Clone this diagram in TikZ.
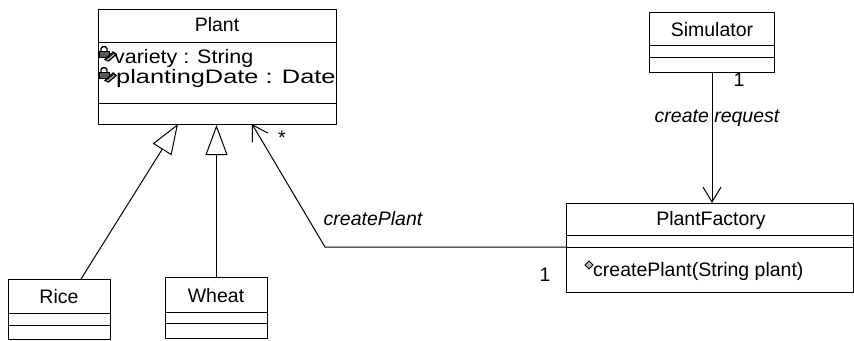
\documentclass[tikz,border=0pt]{standalone}
\usepackage{graphicx}
\usepackage{fontspec}
\setmainfont{Liberation Sans}
\usetikzlibrary{arrows.meta}
\begin{document}
\begin{tikzpicture}[x=1pt,y=-1pt,
  box/.style={draw, line width=1pt, inner sep=0pt, anchor=north west},
  sep/.style={line width=1pt},
  lbl/.style={font=\fontsize{19.5}{23}\selectfont, inner sep=0pt},
  ilbl/.style={font=\fontsize{19.5}{23}\selectfont\itshape, inner sep=0pt},
  gen/.style={line width=1pt, -{Triangle[open, length=30pt, width=22pt, line width=1pt]}},
  assoc/.style={line width=1pt, -{Straight Barb[length=15pt, width=18pt, line width=1pt]}},
  iconline/.style={line width=1.3pt}
]
\useasboundingbox (0,0) rectangle (854,340);

% Plant
\node[box, minimum width=238pt, minimum height=115pt] (plant) at (98,9) {};
\draw[sep] (98,42) -- (336,42);
\draw[sep] (98,103) -- (336,103);
\node[lbl] (plantname) at (217,25) {Plant};
\foreach \yy in {46,67}{
  \begin{scope}[shift={(98,\yy)}]
    \draw[iconline] (3,6) -- (3,2.5) -- (4.5,0.8) -- (7.5,0.8) -- (9,2.5) -- (9,6);
    \filldraw[iconline, fill=black!65] (1,5.5) rectangle (11.5,11.5);
    \filldraw[iconline, fill=gray!45] (7,13.5) -- (15,6) -- (18,8.5) -- (10.5,15) -- cycle;
    \draw[line width=0.8pt] (9.5,12.5) -- (15.5,7.5);
  \end{scope}
}
\node[lbl, anchor=west] (attr1) at (114,58) {\scalebox{1.1}[1]{variety : String}};
\node[lbl, anchor=west] (attr2) at (116,78) {\scalebox{1.3}[1]{plantingDate : Date}};

% Rice
\node[box, minimum width=102pt, minimum height=60pt] (rice) at (8,279) {};
\draw[sep] (8,313) -- (110,313);
\draw[sep] (8,325) -- (110,325);
\node[lbl] (ricename) at (59,297) {Rice};

% Wheat
\node[box, minimum width=102pt, minimum height=61pt] (wheat) at (165,277) {};
\draw[sep] (165,312) -- (267,312);
\draw[sep] (165,323) -- (267,323);
\node[lbl] (wheatname) at (216,296) {Wheat};

% Simulator
\node[box, minimum width=125pt, minimum height=60pt] (sim) at (649,12) {};
\draw[sep] (649,45) -- (774,45);
\draw[sep] (649,57) -- (774,57);
\node[lbl] (simname) at (712,30) {Simulator};

% PlantFactory
\node[box, minimum width=287pt, minimum height=89pt] (factory) at (566,203) {};
\draw[sep] (566,235) -- (853,235);
\draw[sep] (566,247) -- (853,247);
\node[lbl] (factoryname) at (711,220) {PlantFactory};
\filldraw[line width=1pt, fill=gray!60] (585,265) -- (589,261) -- (593,265) -- (589,269) -- cycle;
\node[lbl, anchor=west] (meth) at (593,271) {createPlant(String plant)};

% connectors
\coordinate (riceTop) at (81,279);
\coordinate (plantGenR) at (178,124);
\coordinate (plantAssoc) at (252,124);
\coordinate (bend) at (325,247);
\draw[gen] (riceTop) -- (plantGenR);
\draw[gen] (wheat.north) -- (wheat.north |- plant.south);
\draw[assoc] (factory.west |- bend) -- (bend) -- (plantAssoc);
\draw[assoc] (sim.south) -- (sim.south |- factory.north);

% labels
\node[lbl] (star) at (282,138) {*};
\node[ilbl] (assocname) at (373,219) {createPlant};
\node[lbl] (one1) at (545,275) {1};
\node[lbl] (one2) at (739,80) {1};
\node[ilbl] (reqname) at (717,118) {create request};
\end{tikzpicture}
\end{document}
